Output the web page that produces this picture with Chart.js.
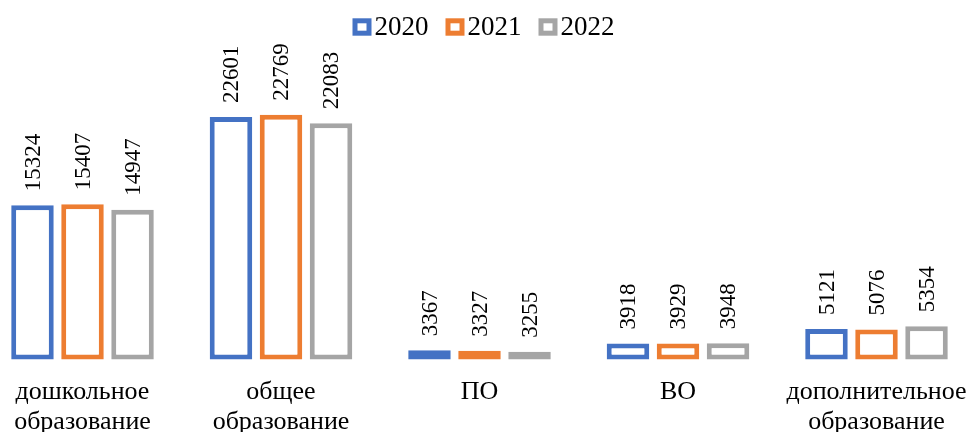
<!DOCTYPE html>
<html>
<head>
<meta charset="utf-8">
<script src="https://cdn.jsdelivr.net/npm/chart.js@4"></script>
<style>
  html, body { margin: 0; padding: 0; background: #fff; }
  #wrap { width: 971px; height: 432px; }
</style>
</head>
<body>
<div id="wrap"><canvas id="chart"></canvas></div>
<script>
const categories = [
    ['дошкольное', 'образование'],
    ['общее', 'образование'],
    'ПО',
    'ВО',
    ['дополнительное', 'образование']
];
const years = ['2020', '2021', '2022'];
const values2020 = [15324, 22601, 3367, 3918, 5121];
const values2021 = [15407, 22769, 3327, 3929, 5076];
const values2022 = [14947, 22083, 3255, 3948, 5354];
const colors = ['#4472C4', '#ED7D31', '#A5A5A5'];

const FONT = '"Liberation Serif", "Times New Roman", serif';
const Y_MIN = 2608;
const Y_MAX = 27290;

// vertical value labels above each bar
const valueLabels = {
    id: 'valueLabels',
    afterDatasetsDraw(chart) {
        const ctx = chart.ctx;
        ctx.save();
        ctx.fillStyle = '#000';
        ctx.font = '23px ' + FONT;
        ctx.textAlign = 'left';
        ctx.textBaseline = 'middle';
        chart.data.datasets.forEach((ds, i) => {
            chart.getDatasetMeta(i).data.forEach((bar, j) => {
                ctx.save();
                ctx.translate(bar.x + 1, bar.y - 14);
                ctx.rotate(-Math.PI / 2);
                ctx.fillText(String(ds.data[j]), 0, 0);
                ctx.restore();
            });
        });
        ctx.restore();
    }
};

// legend with outlined squares, drawn close to the text like the original
const boxLegend = {
    id: 'boxLegend',
    afterDraw(chart) {
        const ctx = chart.ctx;
        const box = 19, boxH = 17.4, lw = 5, textGap = 3, itemGap = 17;
        ctx.save();
        ctx.font = '27px ' + FONT;
        ctx.textBaseline = 'alphabetic';
        ctx.textAlign = 'left';
        const items = chart.data.datasets.map(ds => ({
            text: ds.label, color: ds.borderColor, w: ctx.measureText(ds.label).width
        }));
        const total = items.reduce((s, it) => s + box + textGap + it.w, 0) + itemGap * (items.length - 1);
        let x = (chart.width - total) / 2 - 2;
        const top = 18.3;
        items.forEach(it => {
            ctx.fillStyle = '#fff';
            ctx.fillRect(x, top, box, boxH);
            ctx.strokeStyle = it.color;
            ctx.lineWidth = lw;
            ctx.strokeRect(x + lw / 2, top + lw / 2, box - lw, boxH - lw);
            ctx.fillStyle = '#000';
            ctx.fillText(it.text, x + box + textGap, 35);
            x += box + textGap + it.w + itemGap;
        });
        ctx.restore();
    }
};

const seriesValues = [values2020, values2021, values2022];

new Chart(document.getElementById('chart'), {
    type: 'bar',
    data: {
        labels: categories,
        datasets: years.map((y, i) => ({
            label: y,
            data: seriesValues[i],
            backgroundColor: '#fff',
            borderColor: colors[i],
            borderWidth: 5,
            borderSkipped: false,
            base: Y_MIN,
            barPercentage: 0.85,
            categoryPercentage: 0.756,
            clip: false
        }))
    },
    options: {
        responsive: true,
        maintainAspectRatio: false,
        animation: false,
        layout: { padding: { left: 82.5, right: 94.5, top: 60, bottom: 0 } },
        plugins: {
            legend: { display: false },
            tooltip: { enabled: false }
        },
        scales: {
            x: {
                offset: false,
                grid: { display: false },
                border: { display: false },
                ticks: {
                    color: '#000',
                    font: { family: FONT, size: 26, lineHeight: 1.15 },
                    padding: 10,
                    maxRotation: 0,
                    autoSkip: false
                },
                afterFit(scale) {
                    scale.height = 72.5;
                    // the edge labels may hang past the plot area
                    scale.paddingLeft = 0;
                    scale.paddingRight = 0;
                }
            },
            y: {
                display: false,
                min: Y_MIN,
                max: Y_MAX
            }
        }
    },
    plugins: [valueLabels, boxLegend]
});
</script>
</body>
</html>
